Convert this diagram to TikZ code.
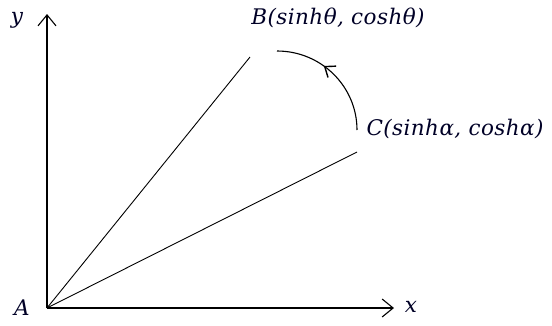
\documentclass[tikz,border=0pt]{standalone}
\usepackage{fontspec}
\newfontfamily\lblfont{DejaVu Serif}[LetterSpace=2]
\usetikzlibrary{arrows.meta,decorations.markings}
\begin{document}
\begin{tikzpicture}[x=1pt,y=-1pt,
  axis/.style={line width=1.3pt,-{Straight Barb[length=11pt,width=18pt,line width=1.1pt]}},
  ray/.style={line width=0.9pt},
  lbl/.style={font=\lblfont\itshape\fontsize{21.5}{24}\selectfont,inner sep=0pt,text=black!85!blue}]
\useasboundingbox (0,0) rectangle (552,325);
\coordinate (A0) at (47,308);
\coordinate (ytip) at (47,14);
\coordinate (xtip) at (394,308);
\coordinate (Bend) at (250,57);
\coordinate (Cend) at (357,152);
\draw[axis] (A0) -- (ytip);
\draw[axis] (A0) -- (xtip);
\draw[ray] (A0) -- (Bend);
\draw[ray] (A0) -- (Cend);
\coordinate (arcstart) at (357,130);
\draw[line width=1.1pt,decoration={markings,mark=at position 0.6 with {\arrow{Straight Barb[length=9pt,width=14pt,line width=1.4pt]}}},postaction=decorate]
  (arcstart) arc[start angle=0,end angle=-90,x radius=80,y radius=79];
\node[lbl] (ylab) at (17,20) {y};
\node[lbl] (xlab) at (411,307) {x};
\node[lbl] (Alab) at (22,308) {A};
\node[lbl] (Blab) at (338,18) {B(sinhθ, coshθ)};
\node[lbl] (Clab) at (455,129) {C(sinhα, coshα)};
\end{tikzpicture}
\end{document}
